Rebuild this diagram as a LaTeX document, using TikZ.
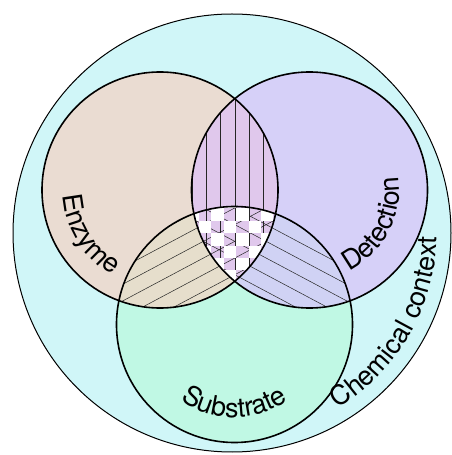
\documentclass[tikz,border=0pt]{standalone}
\usepackage{fontspec}
\setmainfont{TeX Gyre Heros}
\usetikzlibrary{decorations.text}
\definecolor{bgcyan}{RGB}{208,246,248}
\definecolor{enz}{RGB}{234,220,210}
\definecolor{det}{RGB}{214,208,248}
\definecolor{sub}{RGB}{192,248,228}
\definecolor{edcol}{RGB}{224,200,236}
\definecolor{escol}{RGB}{230,222,204}
\definecolor{dscol}{RGB}{208,210,244}
\newcommand\lblfont{\fontsize{27}{32}\selectfont}
\tikzset{
  hatch/.style={line width=0.5pt, black!85},
  circ/.style={line width=1.6pt, black},
  lbl/.style={decorate, decoration={text along path, text align=center, text color=black}}
}
\begin{document}
\begin{tikzpicture}[x=1pt,y=1pt]
\useasboundingbox (0,0) rectangle (451,455);
\coordinate (E) at (160,265);
\coordinate (D) at (309.5,265);
\coordinate (S) at (234.5,130.5);
\coordinate (O) at (232,222);
\def\R{118}
% fills
\fill[bgcyan] (O) circle (219);
\fill[enz] (E) circle (\R);
\fill[det] (D) circle (\R);
\fill[sub] (S) circle (\R);
\begin{scope}\clip (E) circle (\R); \fill[edcol] (D) circle (\R); \end{scope}
\begin{scope}\clip (E) circle (\R); \fill[escol] (S) circle (\R); \end{scope}
\begin{scope}\clip (D) circle (\R); \fill[dscol] (S) circle (\R); \end{scope}
\begin{scope}\clip (E) circle (\R); \clip (D) circle (\R); \fill[edcol] (S) circle (\R); \end{scope}
% hatches
\begin{scope}\clip (E) circle (\R); \clip (D) circle (\R);
  \foreach \k in {-4,...,4} \draw[hatch] ({234.75+14.3*\k},0) -- ++(0,455);
\end{scope}
\begin{scope}\clip (E) circle (\R); \clip (S) circle (\R);
  \foreach \k in {-9,...,9} \draw[hatch] (198,{227.5+16.7*\k}) ++(208:200) -- ++(28:400);
\end{scope}
\begin{scope}\clip (D) circle (\R); \clip (S) circle (\R);
  \foreach \k in {-9,...,9} \draw[hatch] (271.5,{227.5+16.7*\k}) ++(152:200) -- ++(-28:400);
\end{scope}
% checkerboard in the centre
\begin{scope}\clip (E) circle (\R); \clip (D) circle (\R); \clip (S) circle (\R);
  \foreach \c in {-1,...,7}{
    \foreach \r in {-1,...,7}{
      \pgfmathtruncatemacro\cellpar{mod(\c+\r+20,2)}
      \ifnum\cellpar=1
        \fill[white] ({199+12.4*\c},{246.5-12.4*\r}) rectangle ++(12.4,-12.4);
      \fi
    }
  }
\end{scope}
% outlines
\draw[line width=1pt] (O) circle (219);
\draw[circ] (E) circle (\R);
\draw[circ] (D) circle (\R);
\draw[circ] (S) circle (\R);
% labels
\path[lbl, decoration={text={|\lblfont|Enzyme}}] (E) ++(152:97) arc[start angle=152, end angle=272, radius=97];
\path[lbl, decoration={text={|\lblfont|Detection}}] (D) ++(-90:90) arc[start angle=-90, end angle=35, radius=90];
\path[lbl, decoration={text={|\lblfont|Substrate}}] (S) ++(-150:93) arc[start angle=-150, end angle=-30, radius=93];
\path[lbl, decoration={text={|\lblfont|Chemical context}}] (O) ++(-80:205) arc[start angle=-80, end angle=20, radius=205];
\end{tikzpicture}
\end{document}
